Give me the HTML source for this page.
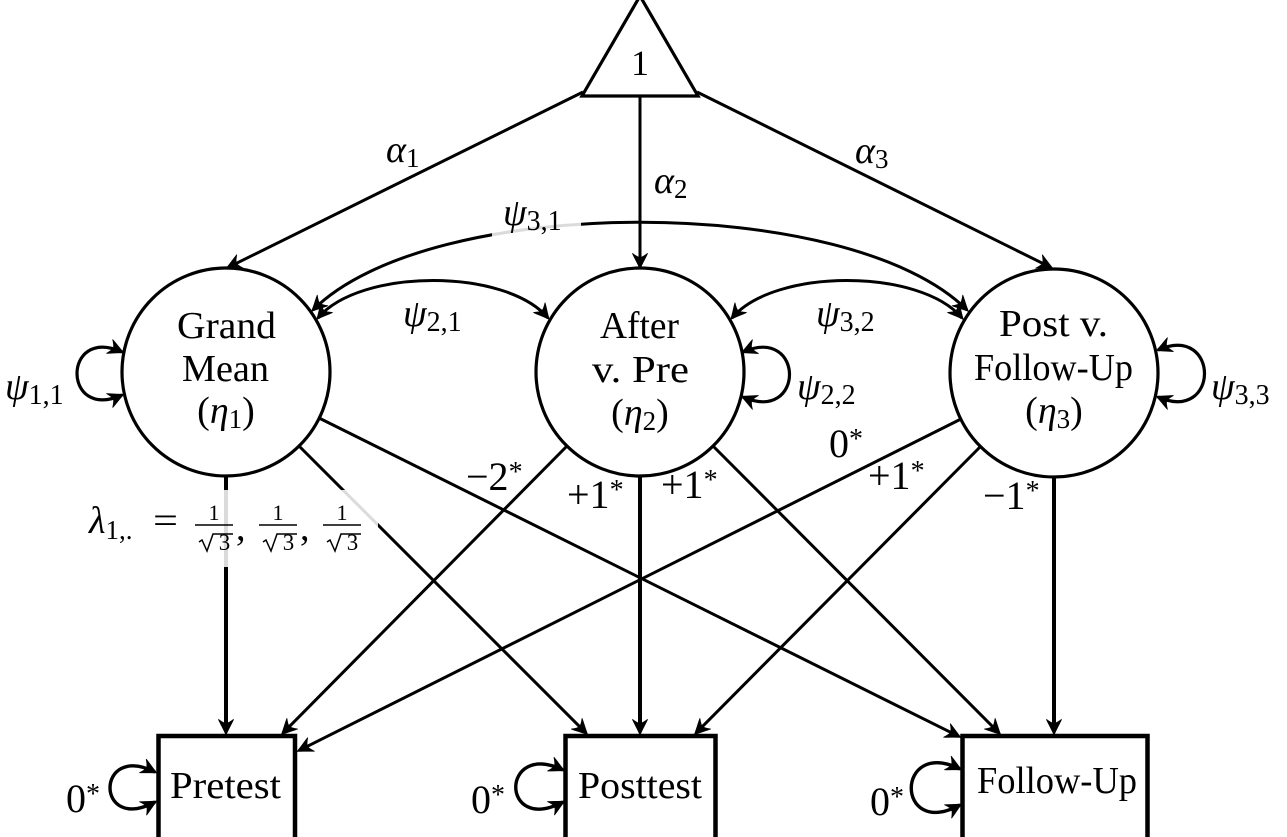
<!DOCTYPE html>
<html><head><meta charset="utf-8"><style>
html,body{margin:0;padding:0;background:#fff;}
svg{display:block;}
text{font-family:"Liberation Serif","DejaVu Serif",serif;fill:#000;}
.n{font-size:38px;}
.m{font-size:38px;}
.i{font-style:italic;}
.l{font-size:40px;}
</style></head><body>
<svg width="1287" height="837" viewBox="0 0 1287 837" xmlns="http://www.w3.org/2000/svg">
<defs>
<marker id="a" markerUnits="userSpaceOnUse" markerWidth="30" markerHeight="30" viewBox="-20 -15 30 30" refX="-4" refY="0" orient="auto-start-reverse" overflow="visible"><path d="M1,0 C-4,-2 -9,-5 -14.5,-7.5 C-11.5,-3.5 -10.5,-1.5 -10.5,0 C-10.5,1.5 -11.5,3.5 -14.5,7.5 C-9,5 -4,2 1,0 Z" fill="#000" stroke="#000" stroke-width="0.8" stroke-linejoin="round"/></marker>
<marker id="b" markerUnits="userSpaceOnUse" markerWidth="30" markerHeight="30" viewBox="-20 -15 30 30" refX="-1" refY="0" orient="auto-start-reverse" overflow="visible"><path d="M1,0 C-4,-2 -9,-5 -14.5,-7.5 C-11.5,-3.5 -10.5,-1.5 -10.5,0 C-10.5,1.5 -11.5,3.5 -14.5,7.5 C-9,5 -4,2 1,0 Z" fill="#000" stroke="#000" stroke-width="0.8" stroke-linejoin="round"/></marker>
</defs>
<rect width="1287" height="837" fill="#fff"/>

<!-- triangle -->
<polygon points="582,96 698,96 640,-4" fill="#fff" stroke="#000" stroke-width="3.2"/>

<g fill="none" stroke="#000" stroke-width="3">
<!-- alpha arrows -->
<line x1="583" y1="92" x2="230.6" y2="266.2" marker-end="url(#a)"/>
<line x1="640" y1="97" x2="640" y2="264" marker-end="url(#a)"/>
<line x1="697" y1="92" x2="1048.4" y2="266.2" marker-end="url(#a)"/>

<!-- loadings -->
<line x1="226" y1="477" x2="226" y2="730" stroke-width="4" marker-end="url(#a)"/>
<line x1="299" y1="446" x2="584.2" y2="731.2" marker-end="url(#a)"/>
<line x1="319" y1="418" x2="956.4" y2="735.2" marker-end="url(#a)"/>
<line x1="567" y1="446" x2="284.8" y2="731.2" marker-end="url(#a)"/>
<line x1="640" y1="476" x2="640" y2="730" stroke-width="4" marker-end="url(#a)"/>
<line x1="713" y1="446" x2="997.2" y2="731.2" marker-end="url(#a)"/>
<line x1="961" y1="419" x2="301.6" y2="749.2" marker-end="url(#a)"/>
<line x1="981" y1="446" x2="697.8" y2="731.2" marker-end="url(#a)"/>
<line x1="1054" y1="476" x2="1054" y2="730" stroke-width="4" marker-end="url(#a)"/>

<!-- covariances -->
<path d="M313,310 C430,193 850,193 967,310" marker-start="url(#b)" marker-end="url(#b)"/>
<path d="M318,318 C360,268 506,268 548,318" marker-start="url(#b)" marker-end="url(#b)"/>
<path d="M732,318 C774,268 920,268 962,318" marker-start="url(#b)" marker-end="url(#b)"/>

<!-- self loops -->
<path d="M122,352 C62,325 62,422 122,395" stroke-width="3.2" marker-start="url(#b)" marker-end="url(#b)"/>
<path d="M743,352 C805,325 805,424 743,397" stroke-width="3.2" marker-start="url(#b)" marker-end="url(#b)"/>
<path d="M1158,350 C1220,323 1220,424 1158,397" stroke-width="3.2" marker-start="url(#b)" marker-end="url(#b)"/>
<path d="M155,772 C95,742 95,834 155,802" stroke-width="3.4" marker-start="url(#b)" marker-end="url(#b)"/>
<path d="M563,770 C500,740 500,835 563,802" stroke-width="3.4" marker-start="url(#b)" marker-end="url(#b)"/>
<path d="M960,769 C895,737 895,840 960,805" stroke-width="3.4" marker-start="url(#b)" marker-end="url(#b)"/>
</g>

<!-- latent circles -->
<g fill="#fff" stroke="#000" stroke-width="3.2">
<circle cx="226" cy="372" r="104"/>
<circle cx="640" cy="372" r="104"/>
<circle cx="1054" cy="373" r="104"/>
</g>

<!-- observed boxes -->
<g fill="#fff" stroke="#000" stroke-width="4.5">
<rect x="158.5" y="736" width="136.5" height="120"/>
<rect x="565.5" y="736" width="150" height="120"/>
<rect x="962.5" y="736" width="185" height="120"/>
</g>

<!-- label backgrounds -->
<rect x="84" y="490" width="294" height="77" fill="#fff" fill-opacity="0.86"/>
<rect x="492" y="200" width="89" height="42" fill="#fff" fill-opacity="0.86"/>

<!-- triangle label -->
<text x="640" y="75" font-size="36" text-anchor="middle">1</text>

<!-- node labels -->
<text class="n" x="177" y="338" textLength="99" lengthAdjust="spacingAndGlyphs">Grand</text>
<text class="n" x="182" y="381" textLength="87" lengthAdjust="spacingAndGlyphs">Mean</text>
<text class="n" x="226" y="423" text-anchor="middle">(<tspan class="i">η</tspan><tspan font-size="27" dy="5">1</tspan><tspan dy="-5">)</tspan></text>

<text class="n" x="600" y="338" textLength="79" lengthAdjust="spacingAndGlyphs">After</text>
<text class="n" x="592" y="382" textLength="97" lengthAdjust="spacingAndGlyphs">v.  Pre</text>
<text class="n" x="640" y="425" text-anchor="middle">(<tspan class="i">η</tspan><tspan font-size="27" dy="5">2</tspan><tspan dy="-5">)</tspan></text>

<text class="n" x="999" y="336" textLength="109" lengthAdjust="spacingAndGlyphs">Post v.</text>
<text class="n" x="974" y="380" textLength="159" lengthAdjust="spacingAndGlyphs">Follow-Up</text>
<text class="n" x="1054" y="423" text-anchor="middle">(<tspan class="i">η</tspan><tspan font-size="27" dy="5">3</tspan><tspan dy="-5">)</tspan></text>

<text class="n" x="170" y="798" textLength="111" lengthAdjust="spacingAndGlyphs">Pretest</text>
<text class="n" x="578" y="798" textLength="124" lengthAdjust="spacingAndGlyphs">Posttest</text>
<text class="n" x="977" y="793" textLength="160" lengthAdjust="spacingAndGlyphs">Follow-Up</text>

<!-- alpha labels -->
<text class="m" x="386" y="162"><tspan class="i">α</tspan><tspan font-size="27" dy="5">1</tspan></text>
<text class="m" x="654" y="193"><tspan class="i">α</tspan><tspan font-size="27" dy="5">2</tspan></text>
<text class="m" x="855" y="163"><tspan class="i">α</tspan><tspan font-size="27" dy="5">3</tspan></text>

<!-- psi labels -->
<text class="m" x="503" y="225"><tspan class="i">ψ</tspan><tspan font-size="28" dy="5">3,1</tspan></text>
<text class="m" x="403" y="326"><tspan class="i">ψ</tspan><tspan font-size="28" dy="5">2,1</tspan></text>
<text class="m" x="816" y="326"><tspan class="i">ψ</tspan><tspan font-size="28" dy="5">3,2</tspan></text>
<text class="m" x="5" y="399"><tspan class="i">ψ</tspan><tspan font-size="28" dy="5">1,1</tspan></text>
<text class="m" x="797" y="399"><tspan class="i">ψ</tspan><tspan font-size="28" dy="5">2,2</tspan></text>
<text class="m" x="1211" y="399"><tspan class="i">ψ</tspan><tspan font-size="28" dy="5">3,3</tspan></text>

<!-- loading labels -->
<text class="l" x="466" y="490">−2<tspan font-size="28" dy="-9">*</tspan></text>
<text class="l" x="567" y="508">+1<tspan font-size="28" dy="-9">*</tspan></text>
<text class="l" x="661" y="498">+1<tspan font-size="28" dy="-9">*</tspan></text>
<text class="l" x="829" y="457">0<tspan font-size="28" dy="-9">*</tspan></text>
<text class="l" x="868" y="489">+1<tspan font-size="28" dy="-9">*</tspan></text>
<text class="l" x="983" y="509">−1<tspan font-size="28" dy="-9">*</tspan></text>
<text class="l" x="66" y="812">0<tspan font-size="28" dy="-9">*</tspan></text>
<text class="l" x="471" y="813">0<tspan font-size="28" dy="-9">*</tspan></text>
<text class="l" x="870" y="815">0<tspan font-size="28" dy="-9">*</tspan></text>

<!-- lambda label -->
<text class="m" x="89" y="533"><tspan class="i">λ</tspan><tspan font-size="27" dy="6">1,.</tspan></text>
<text class="m" x="153" y="533" textLength="25" lengthAdjust="spacingAndGlyphs">=</text>
<g>
<text x="214" y="520" text-anchor="middle" font-size="22">1</text>
<text x="278" y="520" text-anchor="middle" font-size="22">1</text>
<text x="342" y="520" text-anchor="middle" font-size="22">1</text>
<text x="224.5" y="550" text-anchor="middle" font-size="23">3</text>
<text x="288.5" y="550" text-anchor="middle" font-size="23">3</text>
<text x="352.5" y="550" text-anchor="middle" font-size="23">3</text>
</g>
<g fill="none" stroke="#000" stroke-width="1.5">
<line x1="195" y1="525" x2="233" y2="525"/>
<line x1="259" y1="525" x2="297" y2="525"/>
<line x1="323" y1="525" x2="361" y2="525"/>
<polyline points="199,542 202,540 207,551 213,534 233,534"/>
<polyline points="263,542 266,540 271,551 277,534 297,534"/>
<polyline points="327,542 330,540 335,551 341,534 361,534"/>
</g>
<text class="m" x="236" y="540">,</text>
<text class="m" x="300" y="540">,</text>
</svg>
</body></html>
